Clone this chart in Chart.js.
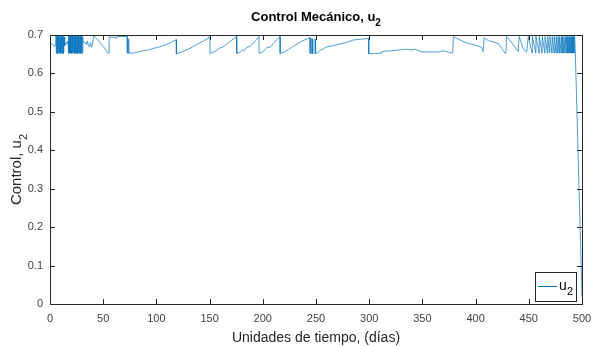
<!DOCTYPE html>
<html>
<head>
<meta charset="utf-8">
<script src="https://cdn.jsdelivr.net/npm/chart.js@4.4.0/dist/chart.umd.min.js"></script>
<style>
  html, body { margin: 0; padding: 0; background: #fff; }
  #wrap { width: 592px; height: 347px; }
</style>
</head>
<body>
<div id="wrap"><canvas id="u2Canvas"></canvas></div>
<script>
// Valores (días, control u2)
const days = [
  0, 2, 4.4, 5.4,
  // zona densa 1
  5.6, 5.95, 6.3, 6.65, 7.0, 7.35, 7.7, 8.05, 8.4, 8.75, 9.1, 9.45, 9.8, 10.15, 10.5, 10.85, 11.2, 11.55, 11.9, 12.25, 12.6, 12.95, 13.3,
  13.8, 14.5, 15.5, 16.5, 17.2,
  // zona densa 2
  17.4, 17.75, 18.1, 18.45, 18.8, 19.15, 19.5, 19.85, 20.2, 20.55, 20.9, 21.25, 21.6, 21.95, 22.3, 22.65, 23.0, 23.35, 23.7, 24.05,
  24.4, 24.75, 25.1, 25.45, 25.8, 26.15, 26.5, 26.85, 27.2, 27.55, 27.9, 28.25, 28.6, 28.95, 29.3, 29.65, 30.0, 30.35, 30.7,
  31, 32.5, 34, 35.2, 36, 37, 38, 39, 40, 41, 44, 47, 50, 53, 54.5, 55.5, 55.6, 58, 62, 62.4, 63.3, 72.6, 72.7, 73.5, 73.6, 74.2, 74.3,
  76, 78, 80, 83, 86, 89, 92.6, 95, 98, 101, 105, 108, 111, 114, 118.7, 118.8,
  121, 123, 126, 129, 132, 136, 140, 144, 148.8, 149, 150.3, 150.4,
  153, 156, 159, 162, 165, 168, 172, 175.4, 175.5,
  178, 181, 182.5, 185, 188, 191, 194, 196.4, 196.5,
  200, 204, 207, 210, 213, 216.2, 216.3,
  220, 224, 228, 232, 236, 240, 244.4, 244.5, 245.5, 245.6, 246.5, 246.6, 248, 248.1, 249.5, 249.6,
  251, 254, 257, 260, 266, 272.6, 279, 285, 292, 299.5, 299.6,
  305, 311.7, 312, 321, 328, 335, 340, 342.5, 345, 349.3, 360, 365, 369.7, 374, 377.5, 378.5,
  379, 380.6, 384, 387, 391, 396, 400, 405.7, 407, 407.8,
  408, 412, 417, 422, 427.6, 428.5, 429, 434, 440, 441, 445, 448,
  // zona densa final
  449.5, 453.1, 453.3, 456.5, 456.7, 459.6, 459.8, 462.4, 462.6, 465.0, 465.2, 467.5, 467.7, 469.6, 469.8, 471.8, 472.0,
  473.7, 473.9, 475.6, 475.8, 477.2, 477.4, 478.7, 478.9, 480.3, 480.5, 481.5, 481.7, 482.8, 483.0, 484.0, 484.2,
  485.3, 485.5, 486.2, 486.4, 487.2, 487.4, 488.1, 488.3, 489.1, 489.3, 490.0, 490.2, 490.6, 490.8, 491.2, 491.4,
  491.9, 492.1, 492.5, 492.7, 493.1, 493.3, 493.7,
  500
];
const u2 = [
  0.679, 0.676, 0.670, 0.680,
  0.698, 0.652, 0.697, 0.653, 0.698, 0.652, 0.696, 0.654, 0.698, 0.652, 0.697, 0.655, 0.694, 0.652, 0.698, 0.653, 0.697, 0.652, 0.698, 0.654, 0.696, 0.652, 0.695,
  0.672, 0.680, 0.676, 0.684, 0.670,
  0.698, 0.652, 0.697, 0.654, 0.698, 0.652, 0.696, 0.653, 0.698, 0.652, 0.697, 0.652, 0.698, 0.655, 0.697, 0.652, 0.698, 0.653, 0.696, 0.652,
  0.698, 0.652, 0.697, 0.654, 0.698, 0.652, 0.697, 0.653, 0.698, 0.652, 0.696, 0.652, 0.698, 0.654, 0.697, 0.652, 0.698, 0.653, 0.695,
  0.680, 0.682, 0.676, 0.684, 0.672, 0.670, 0.680, 0.668, 0.675, 0.698, 0.690, 0.680, 0.670, 0.660, 0.653, 0.653, 0.695, 0.694, 0.694, 0.691, 0.696, 0.696, 0.653, 0.653, 0.690, 0.690, 0.652,
  0.654, 0.652, 0.655, 0.656, 0.658, 0.660, 0.661, 0.663, 0.666, 0.667, 0.671, 0.674, 0.677, 0.681, 0.688, 0.651,
  0.653, 0.655, 0.659, 0.662, 0.666, 0.672, 0.678, 0.684, 0.692, 0.695, 0.692, 0.652,
  0.655, 0.659, 0.665, 0.668, 0.674, 0.681, 0.689, 0.696, 0.652,
  0.654, 0.661, 0.659, 0.668, 0.670, 0.679, 0.687, 0.696, 0.652,
  0.656, 0.668, 0.668, 0.678, 0.688, 0.696, 0.652,
  0.656, 0.662, 0.669, 0.676, 0.683, 0.688, 0.693, 0.652, 0.652, 0.690, 0.690, 0.652, 0.652, 0.688, 0.688, 0.652,
  0.653, 0.660, 0.664, 0.669, 0.672, 0.677, 0.681, 0.687, 0.689, 0.691, 0.651,
  0.652, 0.653, 0.657, 0.659, 0.661, 0.663, 0.661, 0.663, 0.661, 0.656, 0.656, 0.656, 0.659, 0.656, 0.653, 0.653,
  0.695, 0.694, 0.689, 0.685, 0.680, 0.676, 0.673, 0.668, 0.657, 0.657,
  0.693, 0.685, 0.682, 0.676, 0.653, 0.653, 0.696, 0.680, 0.657, 0.696, 0.663, 0.655,
  0.696, 0.653, 0.696, 0.653, 0.696, 0.653, 0.696, 0.653, 0.696, 0.653, 0.696, 0.653, 0.696, 0.653, 0.696, 0.653, 0.696,
  0.653, 0.696, 0.653, 0.696, 0.653, 0.696, 0.653, 0.696, 0.653, 0.696, 0.653, 0.696, 0.653, 0.696, 0.653, 0.696,
  0.653, 0.696, 0.653, 0.696, 0.653, 0.696, 0.653, 0.696, 0.653, 0.696, 0.653, 0.696, 0.653, 0.696, 0.653, 0.696,
  0.653, 0.696, 0.653, 0.696, 0.653, 0.696, 0.656,
  0.020
];
const xTicks = [0, 50, 100, 150, 200, 250, 300, 350, 400, 450, 500];
const yTicks = [0, 0.1, 0.2, 0.3, 0.4, 0.5, 0.6, 0.7];

const axisColor = "#262626";
const lineColor = "#0072BD";
const fontFam = "'Liberation Sans', Arial, sans-serif";

// texto con subíndice "2" al final
function drawSubText(ctx, main, size, subSize, x, y, bold) {
  const b = bold ? "bold " : "";
  ctx.font = b + size + "px " + fontFam;
  const w1 = ctx.measureText(main).width;
  ctx.font = b + subSize + "px " + fontFam;
  const w2 = ctx.measureText("2").width;
  const sx = x - (w1 + w2) / 2;
  ctx.textAlign = "left";
  ctx.textBaseline = "alphabetic";
  ctx.font = b + size + "px " + fontFam;
  ctx.fillText(main, sx, y);
  ctx.font = b + subSize + "px " + fontFam;
  ctx.fillText("2", sx + w1, y + size * 0.38);
}

// marco, marcas interiores, título, etiqueta y y leyenda al estilo MATLAB
const matlabAxes = {
  id: "matlabAxes",
  afterDraw(chart) {
    const { ctx, chartArea: a, scales } = chart;
    ctx.save();
    ctx.strokeStyle = axisColor;
    ctx.lineWidth = 1;
    ctx.strokeRect(a.left + 0.5, a.top + 0.5, a.right - a.left, a.bottom - a.top);

    ctx.beginPath();
    xTicks.forEach(v => {
      const px = Math.round(scales.x.getPixelForValue(v)) + 0.5;
      ctx.moveTo(px, a.bottom); ctx.lineTo(px, a.bottom - 5);
      ctx.moveTo(px, a.top); ctx.lineTo(px, a.top + 5);
    });
    yTicks.forEach(v => {
      const py = Math.round(scales.y.getPixelForValue(v)) + 0.5;
      ctx.moveTo(a.left, py); ctx.lineTo(a.left + 5, py);
      ctx.moveTo(a.right, py); ctx.lineTo(a.right - 5, py);
    });
    ctx.stroke();

    // título
    ctx.fillStyle = "#000";
    drawSubText(ctx, "Control Mecánico, u", 13, 10, (a.left + a.right) / 2, 21, true);

    // etiqueta del eje y
    ctx.save();
    ctx.translate(21, (a.top + a.bottom) / 2);
    ctx.rotate(-Math.PI / 2);
    ctx.fillStyle = "#262626";
    drawSubText(ctx, "Control, u", 15, 11, 0, 0, false);
    ctx.restore();

    // leyenda
    const lx = a.right - 47, ly = a.bottom - 32, lw = 41, lh = 29;
    ctx.fillStyle = "#fff";
    ctx.fillRect(lx, ly, lw, lh);
    ctx.strokeStyle = "#262626";
    ctx.strokeRect(lx + 0.5, ly + 0.5, lw, lh);
    ctx.strokeStyle = lineColor;
    ctx.beginPath();
    ctx.moveTo(lx + 3, ly + 14.5); ctx.lineTo(lx + 22, ly + 14.5);
    ctx.stroke();
    ctx.fillStyle = "#000";
    ctx.textAlign = "left";
    ctx.font = "14px " + fontFam;
    ctx.fillText("u", lx + 24, ly + 18);
    ctx.font = "11px " + fontFam;
    ctx.fillText("2", lx + 32, ly + 23);
    ctx.restore();
  }
};

function createU2Chart() {
  const ctx = document.getElementById("u2Canvas").getContext("2d");
  const points = days.map((d, i) => ({ x: d, y: u2[i] }));

  new Chart(ctx, {
    type: "line",
    data: {
      datasets: [{
        label: "u2",
        data: points,
        borderColor: lineColor,
        borderWidth: 0.7,
        pointRadius: 0,
        tension: 0,
        fill: false
      }]
    },
    options: {
      responsive: false,
      animation: false,
      layout: { padding: { top: 35, right: 10, left: 0, bottom: 0 } },
      plugins: {
        legend: { display: false },
        title: { display: false },
        tooltip: { enabled: false }
      },
      scales: {
        x: {
          type: "linear",
          min: 0, max: 500,
          afterBuildTicks: s => { s.ticks = xTicks.map(v => ({ value: v })); },
          afterFit: s => { s.height = 43; s.paddingLeft = 0; s.paddingRight = 0; },
          grid: { display: false, drawTicks: false },
          border: { display: false },
          ticks: { color: "#404040", padding: 8, font: { size: 11, family: fontFam } },
          title: {
            display: true,
            text: "Unidades de tiempo, (días)",
            color: "#262626",
            padding: { top: 3, bottom: 0 },
            font: { size: 14, family: fontFam }
          }
        },
        y: {
          min: 0, max: 0.7,
          afterBuildTicks: s => { s.ticks = yTicks.map(v => ({ value: v })); },
          afterFit: s => { s.width = 50; s.paddingTop = 0; s.paddingBottom = 0; },
          grid: { display: false, drawTicks: false },
          border: { display: false },
          ticks: {
            color: "#404040", padding: 7,
            font: { size: 11, family: fontFam },
            callback: v => String(Math.round(v * 10) / 10)
          }
        }
      }
    },
    plugins: [matlabAxes]
  });
}

document.getElementById("u2Canvas").width = 592;
document.getElementById("u2Canvas").height = 347;
createU2Chart();
</script>
</body>
</html>
